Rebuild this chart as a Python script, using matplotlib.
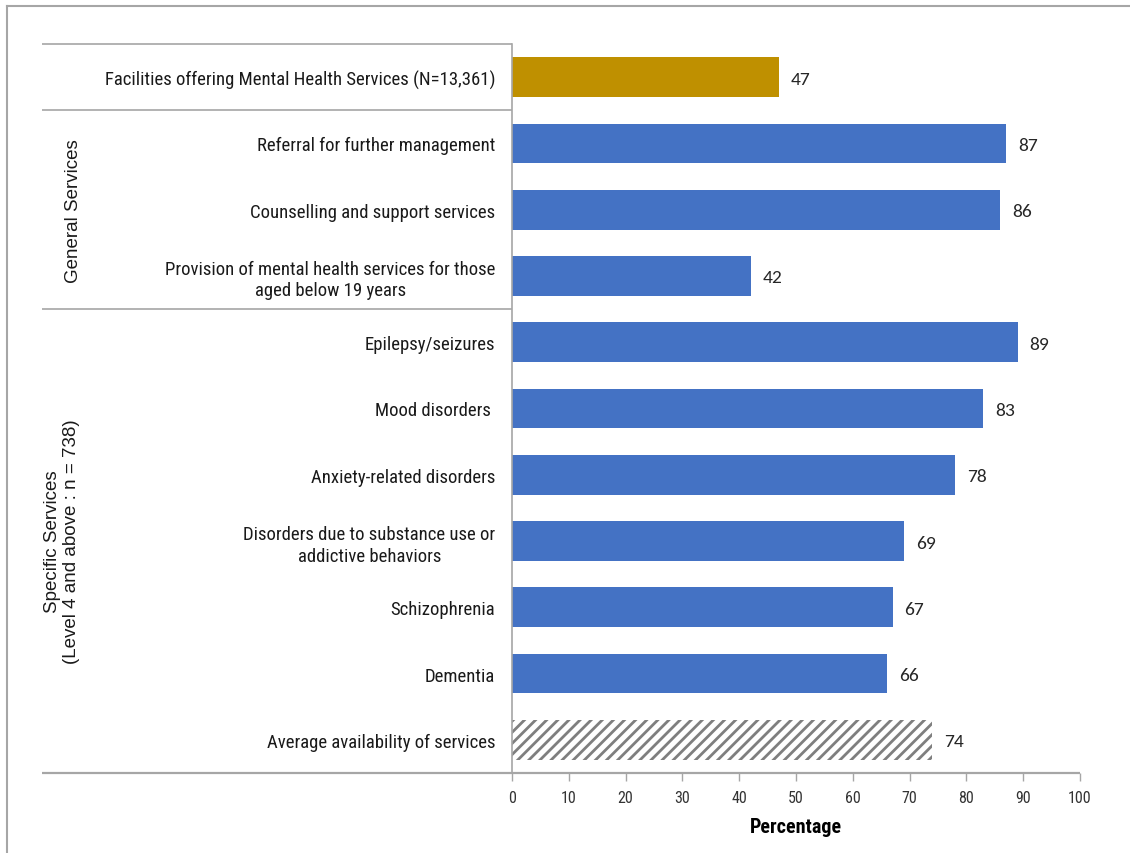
import matplotlib
matplotlib.use("Agg")
import matplotlib.pyplot as plt
import matplotlib.transforms as mtransforms
from matplotlib import font_manager

# Data
categories = [
    "Facilities offering Mental Health Services (N=13,361)",
    "Referral for further management",
    "Counselling and support services",
    "Provision of mental health services for those\naged below 19 years",
    "Epilepsy/seizures",
    "Mood disorders ",
    "Anxiety-related disorders",
    "Disorders due to substance use or\naddictive behaviors",
    "Schizophrenia",
    "Dementia",
    "Average availability of services",
]
values = [47, 87, 86, 42, 89, 83, 78, 69, 67, 66, 74]
bar_kinds = ["total", "bar", "bar", "bar", "bar", "bar", "bar", "bar", "bar", "bar", "average"]
group_names = ["General Services", "Specific Services\n(Level 4 and above : n = 738)"]
group_rows = [(1, 3), (4, 10)]
x_ticks = [0, 10, 20, 30, 40, 50, 60, 70, 80, 90, 100]
x_label = "Percentage"

available = {f.name for f in font_manager.fontManager.ttflist}


def pick(prefs, fallback):
    for name in prefs:
        if name in available:
            return [name, fallback]
    return [fallback]


narrow = pick(["Arial Narrow", "Liberation Sans Narrow", "Roboto Condensed",
               "Archivo Narrow", "PT Sans Narrow", "Sofia Sans Condensed"], "Liberation Sans")
regular = ["Liberation Sans", "DejaVu Sans"]
value_font = pick(["Carlito", "Calibri", "Lato"], "DejaVu Sans")

plt.rcParams["hatch.linewidth"] = 2.0

BLUE = "#4472C4"
GOLD = "#BF9000"
GRID = "#A6A6A6"

fig = plt.figure(figsize=(11.3, 8.54), dpi=100)
ax = fig.add_axes([512 / 1130, 1 - 774 / 854, (1080 - 512) / 1130, (774 - 45) / 854])

rows = list(range(len(categories)))
for r, v, kind in zip(rows, values, bar_kinds):
    if kind == "total":
        ax.barh(r, v, height=0.6, color=GOLD, edgecolor="none")
    elif kind == "average":
        ax.barh(r, v, height=0.6, color="white", edgecolor="#7F7F7F",
                hatch="///", linewidth=0)
    else:
        ax.barh(r, v, height=0.6, color=BLUE, edgecolor="none")
    ax.text(v + 2.1, r, str(v), va="center_baseline", ha="left", fontsize=14,
            family=value_font, color="#262626")

ax.set_xlim(0, 100)
ax.set_ylim(len(categories) - 0.5, -0.5)
ax.set_yticks(rows)
ax.set_yticklabels(categories, fontsize=13.5, family=narrow, color="#1a1a1a")
for lab in ax.get_yticklabels():
    lab.set_multialignment("center")
    lab.set_linespacing(1.25)
ax.tick_params(axis="y", length=0, pad=12)

ax.set_xticks(x_ticks)
ax.set_xticklabels([str(t) for t in x_ticks], fontsize=11.5, family=narrow, color="#333333")
ax.tick_params(axis="x", direction="out", length=6, width=1, color=GRID, pad=6)
ax.set_xlabel(x_label, fontsize=14.5, family=narrow, fontweight="bold", labelpad=9)

for side in ["top", "right", "bottom"]:
    ax.spines[side].set_visible(False)
ax.spines["left"].set_color(GRID)
ax.spines["left"].set_linewidth(1.2)

# Horizontal rules separating the label groups
trans = mtransforms.blended_transform_factory(ax.transAxes, ax.transData)
x_left = (42 - 512) / (1080 - 512)
for yb in [-0.5, 0.5, 3.5]:
    ax.plot([x_left, 0], [yb, yb], transform=trans, color=GRID, lw=1.2,
            clip_on=False, solid_capstyle="butt")
ax.plot([x_left, 1], [len(categories) - 0.5] * 2, transform=trans, color=GRID,
        lw=1.6, clip_on=False, solid_capstyle="butt")

# Group titles
group_x = [(74 - 512) / 568, (62 - 512) / 568]
for name, (a, b), gx in zip(group_names, group_rows, group_x):
    ax.text(gx, (a + b) / 2, name, transform=trans, rotation=90, ha="center",
            va="center", fontsize=13.5, family=regular, color="#1a1a1a",
            multialignment="center", linespacing=1.2)

# Frame around the figure
fig.add_artist(plt.Line2D([7 / 1130, 1], [1 - 7 / 854] * 2, transform=fig.transFigure,
                          color=GRID, lw=1.5))
fig.add_artist(plt.Line2D([7 / 1130] * 2, [0, 1 - 7 / 854], transform=fig.transFigure,
                          color=GRID, lw=1.5))

fig.savefig("out.png", dpi=100, facecolor="white")
